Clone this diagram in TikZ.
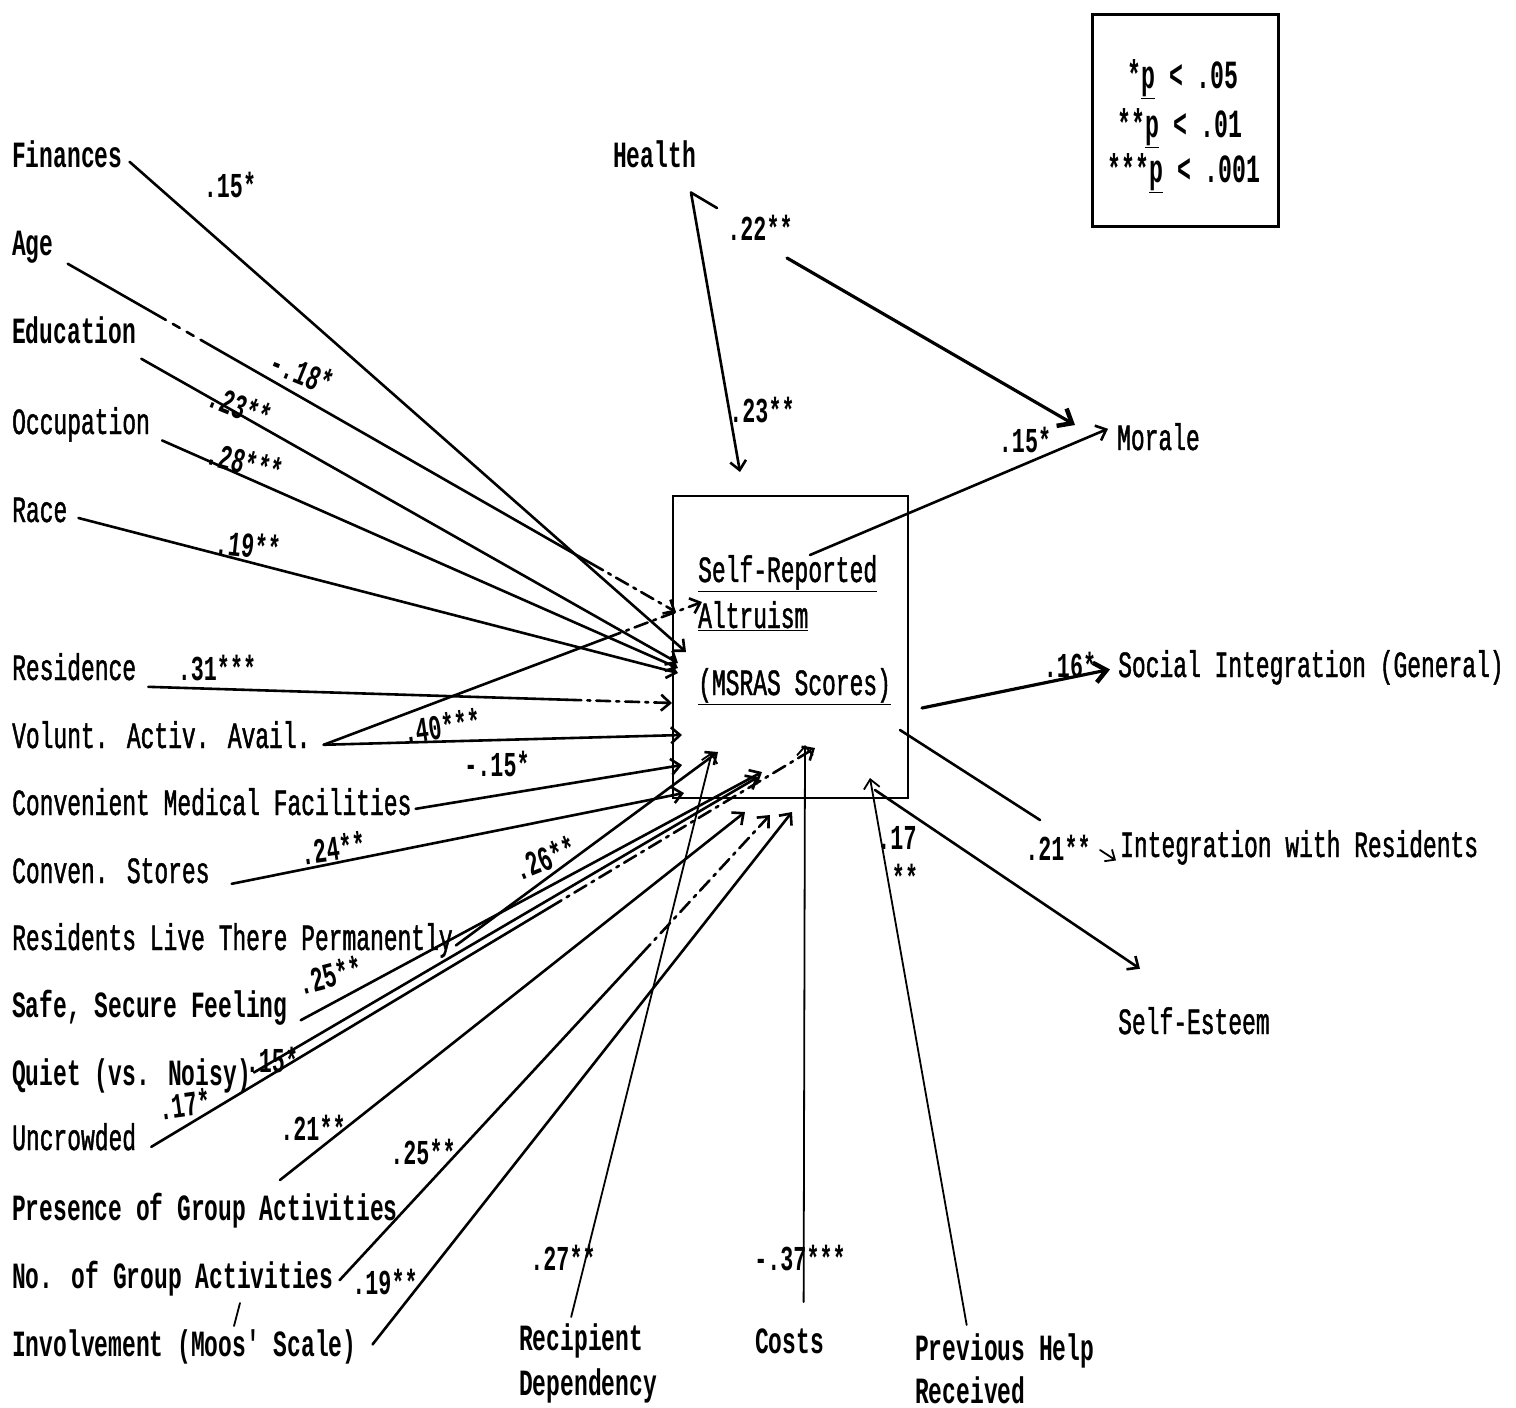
\documentclass[tikz,border=0pt]{standalone}
\usepackage{fontspec}
\usetikzlibrary{arrows.meta,calc}
\newfontfamily\tw[FakeStretch=0.62,FakeBold=1.2]{Liberation Mono}
\newfontfamily\twb[FakeStretch=0.62]{Liberation Mono Bold}
\newfontfamily\twl[FakeStretch=0.58]{Liberation Mono Bold}
\begin{document}
\begin{tikzpicture}[x=1pt,y=-1pt,
  lbl/.style={font=\tw\fontsize{37}{39}\selectfont, inner sep=0pt, anchor=base west},
  lblb/.style={lbl, font=\twb\fontsize{37}{39}\selectfont},
  coef/.style={font=\twb\fontsize{35}{37}\selectfont, inner sep=0pt},
  legf/.style={font=\twl\fontsize{40}{42}\selectfont, inner sep=0pt, anchor=base},
  conn/.style={line width=2.6pt, line cap=round},
  arr/.style={conn, -{Straight Barb[length=9pt,width=16pt]}},
  arrT/.style={line width=3.2pt, line cap=round, -{Straight Barb[length=12pt,width=20pt,line width=4.5pt]}},
  dd/.style={dash pattern=on 14pt off 6pt on 3pt off 6pt},
  thin/.style={line width=1.8pt, line cap=round}]
\useasboundingbox (0,0) rectangle (1516,1408);

% ---------- central box ----------
\node[draw, line width=2.2pt, minimum width=235pt, minimum height=302pt, inner sep=0pt, anchor=north west] (box) at (672,495) {};
\node[lbl] (t1) at (698,582) {\underline{Self-Reported}};
\node[lbl] (t2) at (698,628) {\underline{Altruism}};
\node[lbl] (t3) at (698,695) {\underline{(MSRAS Scores)}};

% ---------- legend ----------
\node[draw, line width=2.5pt, minimum width=186pt, minimum height=212pt, inner sep=0pt, anchor=north west] (leg) at (1091,13) {};
\node[legf] (l1) at (1183,88) {*\underline{p} < .05};
\node[legf] (l2) at (1180,137) {**\underline{p} < .01};
\node[legf] (l3) at (1184,182) {***\underline{p} < .001};

% ---------- left labels ----------
\node[lblb] (fin)   at (12,167)  {Finances};
\node[lblb] (age)   at (12,255)  {Age};
\node[lblb] (edu)   at (12,343)  {Education};
\node[lbl]  (occ)   at (12,434)  {Occupation};
\node[lbl]  (race)  at (12,522)  {Race};
\node[lbl]  (res)   at (12,680)  {Residence};
\node[lbl]  (vol)   at (12,748)  {Volunt. Activ. Avail.};
\node[lbl]  (med)   at (12,815)  {Convenient Medical Facilities};
\node[lbl]  (sto)   at (12,883)  {Conven. Stores};
\node[lbl]  (perm)  at (12,950)  {Residents Live There Permanently};
\node[lblb] (safe)  at (12,1017) {Safe, Secure Feeling};
\node[lblb] (quiet) at (12,1085) {Quiet (vs. Noisy)};
\node[lbl]  (unc)   at (12,1150) {Uncrowded};
\node[lblb] (pres)  at (12,1220) {Presence of Group Activities};
\node[lblb] (num)   at (12,1288) {No. of Group Activities};
\node[lblb] (inv)   at (12,1356) {Involvement (Moos' Scale)};

% ---------- bottom labels ----------
\node[lblb] (rec)  at (519,1350) {Recipient};
\node[lblb] (dep)  at (519,1395) {Dependency};
\node[lblb] (cost) at (755,1353) {Costs};
\node[lblb] (prev) at (915,1360) {Previous Help};
\node[lblb] (recv) at (915,1403) {Received};

% ---------- top / right labels ----------
\node[lblb] (health) at (613,167)  {Health};
\node[lbl]  (morale) at (1117,450) {Morale};
\node[lbl]  (social) at (1118,677) {Social Integration (General)};
\node[lbl]  (intr)   at (1120,857) {Integration with Residents};
\node[lbl]  (esteem) at (1118,1034) {Self-Esteem};

% ---------- start points ----------
\coordinate (sFin)   at ([shift={(7,8)}]fin.east);
\coordinate (sAge)   at ([shift={(14,17)}]age.east);
\coordinate (sEdu)   at ([shift={(5,29)}]edu.east);
\coordinate (sOcc)   at ([shift={(12,16)}]occ.east);
\coordinate (sRace)  at ([shift={(11,8)}]race.east);
\coordinate (sRes)   at ([shift={(12,20)}]res.east);
\coordinate (sVol)   at ([shift={(13,10)}]vol.east);
\coordinate (sMed)   at ([shift={(4,7)}]med.east);
\coordinate (sSto)   at ([shift={(22,13)}]sto.east);
\coordinate (sPerm)  at ([shift={(3,5)}]perm.east);
\coordinate (sSafe)  at ([shift={(13,13)}]safe.east);
\coordinate (sQuiet) at ([shift={(3,-3)}]quiet.east);
\coordinate (sUnc)   at ([shift={(15,10)}]unc.east);
\coordinate (sPres)  at (280,1180);
\coordinate (sNum)   at ([shift={(6,2)}]num.east);
\coordinate (sInv)   at ([shift={(16,-2)}]inv.east);
\coordinate (sRec)   at ([shift={(-10,-6)}]rec.north);
\coordinate (sCost)  at ([shift={(14,-26)}]cost.north);
\coordinate (sPrev)  at ([shift={(-38,-8)}]prev.north);
\coordinate (sHea)   at ([shift={(-5,25)}]health.south east);

% ---------- end points on the box ----------
\coordinate (eFin)   at (686,652);
\coordinate (eAge)   at (676,612);
\coordinate (eEdu)   at (678,663);
\coordinate (eOcc)   at (678,668);
\coordinate (eRace)  at (678,673);
\coordinate (eRes)   at (672,703);
\coordinate (eVol)   at (682,735);
\coordinate (eVol2)  at (702,602);
\coordinate (eMed)   at (682,765);
\coordinate (eSto)   at (684,793);
\coordinate (ePerm)  at (718,752);
\coordinate (eSafe)  at (762,772);
\coordinate (eQuiet) at (758,777);
\coordinate (eUnc)   at (815,748);
\coordinate (ePres)  at (745,812);
\coordinate (eNum)   at (770,815);
\coordinate (eInv)   at (792,812);
\coordinate (eRec)   at (712,752);
\coordinate (eCost)  at (805,745);
\coordinate (ePrev)  at (870,778);
\coordinate (eHea)   at (740,472);

% ---------- input connectors ----------
\draw[arr] (sFin) -- (eFin);
\draw[conn] (sAge) -- ($(sAge)!0.15!(eAge)$);
\draw[conn, dash pattern=on 8pt off 8pt] ($(sAge)!0.15!(eAge)$) -- ($(sAge)!0.22!(eAge)$);
\draw[conn] ($(sAge)!0.22!(eAge)$) -- ($(sAge)!0.86!(eAge)$);
\draw[arr, dd] ($(sAge)!0.86!(eAge)$) -- (eAge);
\draw[arr] (sEdu) -- (eEdu);
\draw[arr] (sOcc) -- (eOcc);
\draw[arr] (sRace) -- (eRace);
\draw[conn] (sRes) -- ($(sRes)!0.8!(eRes)$);
\draw[arr, dd] ($(sRes)!0.8!(eRes)$) -- (eRes);
\draw[arr] (sVol) -- (eVol);
\draw[conn] (sVol) -- ($(sVol)!0.75!(eVol2)$);
\draw[arr, dd] ($(sVol)!0.75!(eVol2)$) -- (eVol2);
\draw[arr] (sMed) -- (eMed);
\draw[arr] (sSto) -- (eSto);
\draw[arr] (sPerm) -- (ePerm);
\draw[arr] (sSafe) -- (eSafe);
\draw[arr] (sQuiet) -- (eQuiet);
\draw[conn] (sUnc) -- ($(sUnc)!0.6!(eUnc)$);
\draw[arr, dd] ($(sUnc)!0.6!(eUnc)$) -- (eUnc);
\draw[arr] (sPres) -- (ePres);
\draw[conn] (sNum) -- ($(sNum)!0.7!(eNum)$);
\draw[arr, dd] ($(sNum)!0.7!(eNum)$) -- (eNum);
\draw[arr] (sInv) -- (eInv);
\draw[arr, thin] (sRec) -- (eRec);
\draw[arr, thin] (sCost) -- (eCost);
\draw[arr, thin] (sPrev) -- (ePrev);
\draw[arr] (sHea) -- (eHea);
\draw[thin] (240,1303) -- (234,1326);

% ---------- output connectors ----------
\coordinate (hm1) at (717,208);
\coordinate (hm2) at (787,258);
\coordinate (eHM) at (1075,425);
\draw[conn] (sHea) -- (hm1);
\draw[arrT] (hm2) -- (eHM);
\coordinate (sMor) at (810,555);
\draw[arr] (sMor) -- ([shift={(-9,-8)}]morale.west);
\coordinate (sSoc) at (922,708);
\draw[arrT] (sSoc) -- ([shift={(-8,2)}]social.west);
\coordinate (sInt) at (900,730);
\coordinate (ir1) at (1040,820);
\coordinate (ir2) at (1100,850);
\draw[conn] (sInt) -- (ir1);
\draw[thin, -{Straight Barb[length=8pt,width=14pt]}] (ir2) -- ([shift={(-4,13)}]intr.west);
\coordinate (sSE) at (875,790);
\draw[arr] (sSE) -- ([shift={(22,-52)}]esteem.west);

% ---------- coefficients ----------
\node[coef] (c1)  at (230,185)  {.15*};
\node[coef, rotate=-22] (c2) at (302,372) {-.18*};
\node[coef, rotate=-22] (c3) at (240,406) {.23**};
\node[coef, rotate=-15] (c4) at (245,462) {.28***};
\node[coef, rotate=-6]  (c5) at (248,545) {.19**};
\node[coef] (c6)  at (217,668)  {.31***};
\node[coef, rotate=8]   (c7) at (442,726) {.40***};
\node[coef] (c8)  at (497,764)  {-.15*};
\node[coef, rotate=8]   (c9) at (333,848) {.24**};
\node[coef, rotate=22]  (c10) at (545,858) {.26**};
\node[coef, rotate=15]  (c11) at (330,975) {.25**};
\node[coef] (c12) at (272,1060) {.15*};
\node[coef, rotate=8]   (c13) at (185,1104) {.17*};
\node[coef] (c14) at (313,1128) {.21**};
\node[coef] (c15) at (423,1152) {.25**};
\node[coef] (c16) at (385,1282) {.19**};
\node[coef] (c17) at (563,1258) {.27**};
\node[coef] (c18) at (800,1258) {-.37***};
\node[coef] (c19) at (897,838)  {.17};
\node[coef] (c20) at (905,877)  {**};
\node[coef] (c21) at (760,228)  {.22**};
\node[coef] (c22) at (762,410)  {.23**};
\node[coef] (c23) at (1025,440) {.15*};
\node[coef] (c24) at (1070,665) {.16*};
\node[coef] (c25) at (1058,848) {.21**};
\end{tikzpicture}
\end{document}
